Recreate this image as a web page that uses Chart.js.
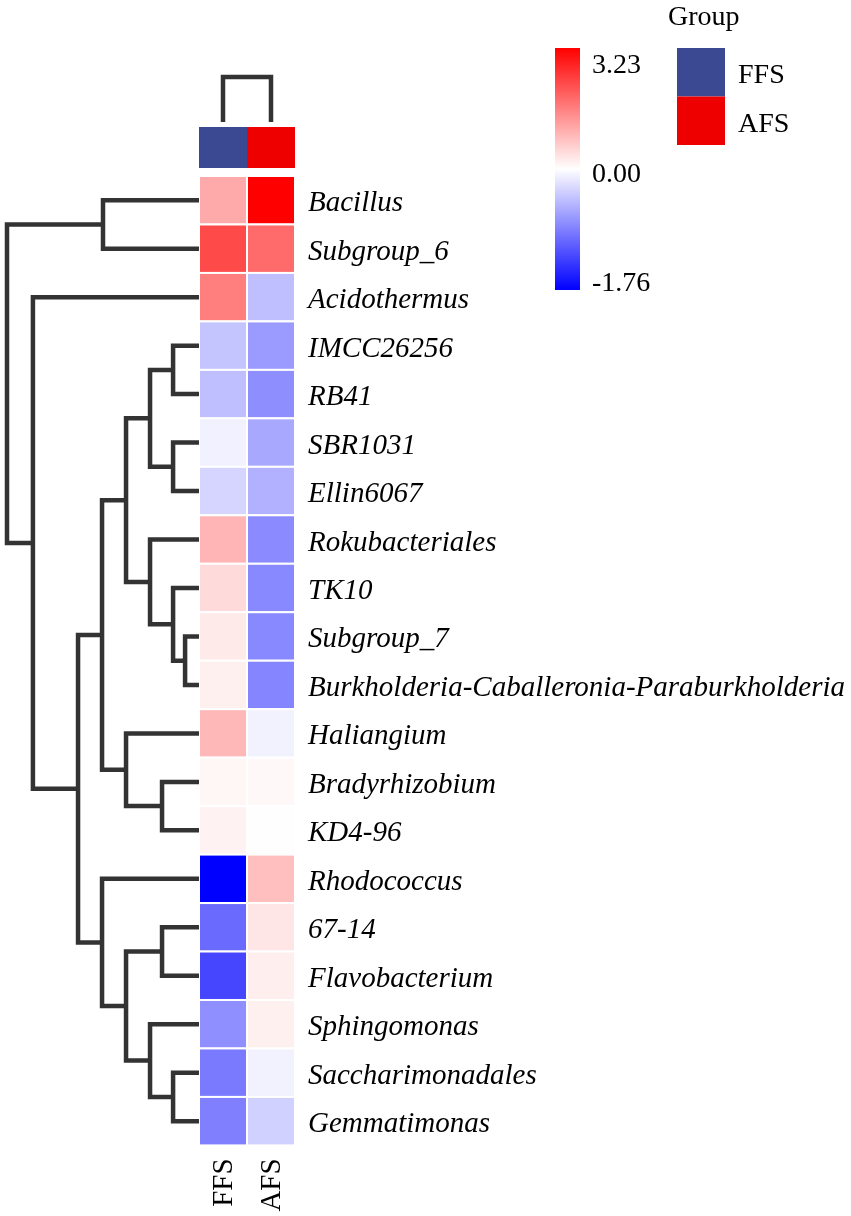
<!DOCTYPE html>
<html>
<head>
<meta charset="utf-8">
<script src="https://cdn.jsdelivr.net/npm/chart.js@4.4.0/dist/chart.umd.min.js"></script>
<style>
  html, body { margin: 0; padding: 0; background: #fff; }
  #wrap { width: 851px; height: 1216px; position: relative; }
</style>
</head>
<body>
<div id="wrap"><canvas id="heatmap"></canvas></div>
<script>
// rows of the heatmap, top to bottom
const genera = [
  "Bacillus", "Subgroup_6", "Acidothermus", "IMCC26256", "RB41",
  "SBR1031", "Ellin6067", "Rokubacteriales", "TK10", "Subgroup_7",
  "Burkholderia-Caballeronia-Paraburkholderia", "Haliangium", "Bradyrhizobium",
  "KD4-96", "Rhodococcus", "67-14", "Flavobacterium", "Sphingomonas",
  "Saccharimonadales", "Gemmatimonas"
];
const groups = ["FFS", "AFS"];
const groupColors = ["#3B4992", "#EE0000"];

// scaled abundance per genus
const ffsValues = [1.08, 2.29, 1.62, -0.41, -0.44, -0.10, -0.29, 0.94, 0.47, 0.26,
                   0.19, 0.90, 0.11, 0.17, -1.76, -1.03, -1.28, -0.77, -0.92, -0.88];
const afsValues = [3.23, 1.88, -0.44, -0.69, -0.78, -0.60, -0.54, -0.80, -0.82, -0.82,
                   -0.84, -0.09, 0.09, 0.01, 0.81, 0.32, 0.21, 0.19, -0.09, -0.32];

const scaleMin = -1.76;
const scaleMax = 3.23;
const scaleTicks = [3.23, 0.00, -1.76];

// row dendrogram: [left, right, height], leaves are 0..19, merged nodes 20+
const rowMerges = [
  [9, 10, 0.29],
  [3, 4, 0.54],
  [5, 6, 0.54],
  [8, 20, 0.54],
  [18, 19, 0.54],
  [12, 13, 0.77],
  [15, 16, 0.77],
  [21, 22, 1.02],
  [7, 23, 1.02],
  [17, 24, 1.02],
  [27, 28, 1.52],
  [11, 25, 1.52],
  [26, 29, 1.52],
  [0, 1, 2.0],
  [30, 31, 2.02],
  [14, 32, 2.02],
  [34, 35, 2.52],
  [2, 36, 3.46],
  [33, 37, 4.0]
];
// column dendrogram: FFS + AFS
const colMergeHeight = 0.93;

//build the tree lines from the merges
const nodeY = genera.map((g, i) => i + 0.5);
const nodeH = genera.map(() => 0);
const treeSets = [];
rowMerges.forEach(([a, b, h]) => {
  treeSets.push({
    data: [
      { x: -nodeH[a], y: nodeY[a] }, { x: -h, y: nodeY[a] },
      { x: -h, y: nodeY[b] }, { x: -nodeH[b], y: nodeY[b] }
    ]
  });
  nodeY.push((nodeY[a] + nodeY[b]) / 2);
  nodeH.push(h);
});

const colBase = -1.114;
treeSets.push({
  data: [
    { x: 0.5, y: colBase }, { x: 0.5, y: colBase - colMergeHeight },
    { x: 1.5, y: colBase - colMergeHeight }, { x: 1.5, y: colBase }
  ]
});

function valueColor(v) {
  if (v >= 0) {
    const t = Math.min(v / scaleMax, 1);
    const c = Math.round(255 * (1 - t));
    return `rgb(255,${c},${c})`;
  }
  const t = Math.min(v / scaleMin, 1);
  const c = Math.round(255 * (1 - t));
  return `rgb(${c},${c},255)`;
}

const FONT = '"Liberation Serif", "Times New Roman", serif';

//draws the cells, annotation bar, labels and legends
const heatmapPlugin = {
  id: "heatmapCells",
  beforeDatasetsDraw(chart) {
    const { ctx, scales: { x, y } } = chart;
    ctx.save();

    //annotation bar
    groups.forEach((g, c) => {
      const x0 = x.getPixelForValue(c), x1 = x.getPixelForValue(c + 1);
      const y0 = y.getPixelForValue(-1.011), y1 = y.getPixelForValue(-0.165);
      ctx.fillStyle = groupColors[c];
      ctx.fillRect(x0, y0, x1 - x0, y1 - y0);
    });

    //cells
    [ffsValues, afsValues].forEach((vals, c) => {
      vals.forEach((v, r) => {
        const x0 = x.getPixelForValue(c), x1 = x.getPixelForValue(c + 1);
        const y0 = y.getPixelForValue(r), y1 = y.getPixelForValue(r + 1);
        ctx.fillStyle = valueColor(v);
        ctx.fillRect(x0, y0, x1 - x0, y1 - y0);
        ctx.strokeStyle = "#ffffff";
        ctx.lineWidth = 2;
        ctx.strokeRect(x0, y0, x1 - x0, y1 - y0);
      });
    });

    //row labels
    ctx.fillStyle = "#000";
    ctx.font = `italic 29px ${FONT}`;
    ctx.textAlign = "left";
    ctx.textBaseline = "alphabetic";
    const labelX = x.getPixelForValue(2) + 13;
    genera.forEach((g, r) => {
      ctx.fillText(g, labelX, y.getPixelForValue(r + 0.5) + 11);
    });

    //column labels, rotated
    ctx.font = `29px ${FONT}`;
    groups.forEach((g, c) => {
      ctx.save();
      ctx.translate(x.getPixelForValue(c + 0.5) + 9, y.getPixelForValue(20) + 13);
      ctx.rotate(-Math.PI / 2);
      ctx.textAlign = "right";
      ctx.fillText(g, 0, 0);
      ctx.restore();
    });

    //colour key
    const kx = 555, ky = 48, kw = 25, kh = 242;
    const grad = ctx.createLinearGradient(0, ky, 0, ky + kh);
    grad.addColorStop(0, valueColor(scaleMax));
    grad.addColorStop(0.5, valueColor(0));
    grad.addColorStop(1, valueColor(scaleMin));
    ctx.fillStyle = grad;
    ctx.fillRect(kx, ky, kw, kh);
    ctx.fillStyle = "#000";
    ctx.font = `28px ${FONT}`;
    ctx.textAlign = "left";
    const tickBase = [73, 182, 291];
    scaleTicks.forEach((t, i) => {
      ctx.fillText(t.toFixed(2), kx + 37, tickBase[i]);
    });

    //group legend
    ctx.fillText("Group", 668, 25);
    groups.forEach((g, i) => {
      ctx.fillStyle = groupColors[i];
      ctx.fillRect(677, 48 + i * 48.5, 48, 48.5);
      ctx.fillStyle = "#000";
      ctx.fillText(g, 738, 83 + i * 49);
    });

    ctx.restore();
  }
};

const ctx = document.getElementById("heatmap").getContext("2d");
new Chart(ctx, {
  type: "scatter",
  data: {
    datasets: treeSets.map((s) => ({
      data: s.data,
      showLine: true,
      borderColor: "#333333",
      borderWidth: 4.5,
      pointRadius: 0,
      tension: 0,
      borderJoinStyle: "miter"
    }))
  },
  options: {
    responsive: true,
    maintainAspectRatio: false,
    animation: false,
    layout: { padding: 0 },
    plugins: { legend: { display: false }, tooltip: { enabled: false } },
    scales: {
      x: { type: "linear", display: false, min: -199 / 48, max: (851 - 199) / 48 },
      y: { type: "linear", display: false, reverse: true, min: -176 / 48.47, max: (1216 - 176) / 48.47 }
    }
  },
  plugins: [heatmapPlugin]
});
</script>
</body>
</html>
